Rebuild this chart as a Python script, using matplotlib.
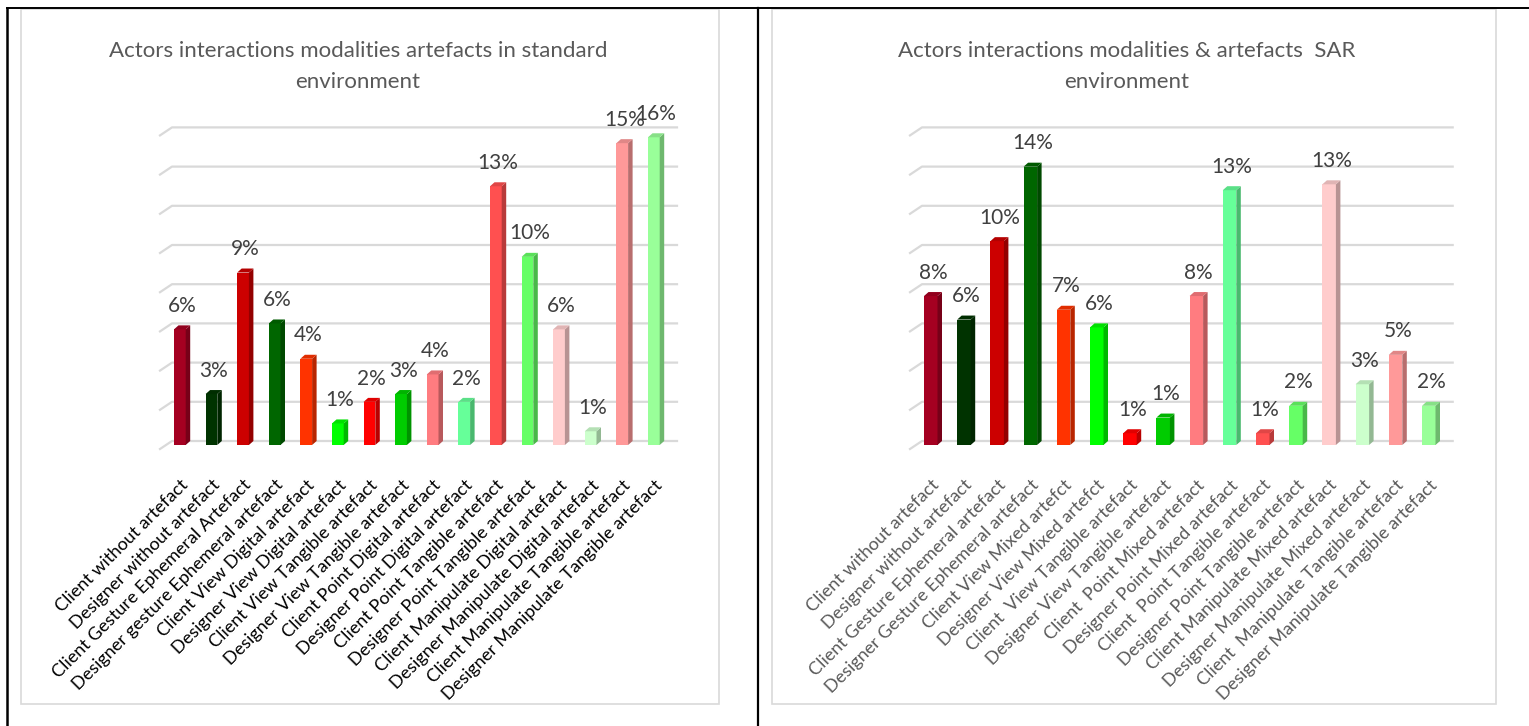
import matplotlib
matplotlib.use("Agg")
import matplotlib.pyplot as plt
from matplotlib.patches import Polygon, Rectangle
from matplotlib.lines import Line2D
import matplotlib.colors as mcolors
import numpy as np

# ---------------- data ----------------
left_title = ["Actors interactions modalities artefacts in standard", "environment"]
left_categories = [
    "Client without artefact", "Designer without artefact",
    "Client Gesture Ephemeral Artefact", "Designer gesture Ephemeral artefact",
    "Client View Digital artefact", "Designer View Digital artefact",
    "Client View Tangible artefact", "Designer View Tangible artefact",
    "Client Point Digital artefact", "Designer Point Digital artefact",
    "Client Point Tangible artefact", "Designer Point Tangible artefact",
    "Client Manipulate Digital artefact", "Designer Manipulate Digital artefact",
    "Client Manipulate Tangible artefact", "Designer Manipulate Tangible artefact",
]
left_values = [5.9, 2.6, 8.8, 6.2, 4.4, 1.1, 2.2, 2.6, 3.6, 2.2, 13.2, 9.6, 5.9, 0.7, 15.4, 15.7]

right_title = ["Actors interactions modalities & artefacts  SAR", "environment"]
right_categories = [
    "Client without artefact", "Designer without artefact",
    "Client Gesture Ephemeral artefact", "Designer Gesture Ephemeral artefact",
    "Client View Mixed artefct", "Designer View Mixed artefct",
    "Client  View Tangible artefact", "Designer View Tangible artefact",
    "Client  Point Mixed artefact", "Designer Point Mixed artefact",
    "Client  Point Tangible artefact", "Designer Point Tangible artefact",
    "Client Manipulate Mixed artefact", "Designer Manipulate Mixed artefact",
    "Client  Manipulate Tangible artefact", "Designer Manipulate Tangible artefact",
]
right_values = [7.6, 6.4, 10.4, 14.2, 6.9, 6.0, 0.6, 1.4, 7.6, 13.0, 0.6, 2.0, 13.3, 3.1, 4.6, 2.0]

bar_colors = ["#A50021", "#003300", "#CC0000", "#006600", "#FF3300", "#00FF00",
              "#FF0000", "#00CC00", "#FF7C80", "#66FF99", "#FF5050", "#66FF66",
              "#FFCCCC", "#CCFFCC", "#FF9999", "#99FF99"]
grid_values = [0, 2, 4, 6, 8, 10, 12, 14, 16]

# ---------------- figure ----------------
W, H = 1529, 726
fig = plt.figure(figsize=(W / 100, H / 100), dpi=100)
fig.patch.set_facecolor("white")
FONT = "Lato"


def px_axes(x0, x1, ytop, ybot):
    return fig.add_axes([x0 / W, (H - ybot) / H, (x1 - x0) / W, (ybot - ytop) / H])


def darker(c, f):
    r, g, b = mcolors.to_rgb(c)
    return (r * f, g * f, b * f)


def draw_panel(ax, cats, vals, xlim, ylim, width, dx, dy, wall_left, wall_right,
               diag_left, tick_color):
    x = np.arange(len(cats))
    ax.set_xlim(*xlim)
    ax.set_ylim(*ylim)
    for s in ax.spines.values():
        s.set_visible(False)
    ax.set_yticks([])
    # back-wall gridlines with side-wall diagonal
    for g in grid_values:
        ax.add_line(Line2D([diag_left, wall_left, wall_right], [g - dy, g + dy, g + dy],
                           color="#D9D9D9", lw=1.6, zorder=1, clip_on=False))
    # bars: front face
    ax.bar(x, vals, width=width, color=bar_colors, zorder=3)
    for xi, v, c in zip(x, vals, bar_colors):
        side = Polygon([(xi + width / 2, 0), (xi + width / 2 + dx, dy),
                        (xi + width / 2 + dx, v + dy), (xi + width / 2, v)],
                       closed=True, facecolor=darker(c, 0.72), edgecolor="none", zorder=3)
        top = Polygon([(xi - width / 2, v), (xi - width / 2 + dx, v + dy),
                       (xi + width / 2 + dx, v + dy), (xi + width / 2, v)],
                      closed=True, facecolor=darker(c, 0.88), edgecolor="none", zorder=3)
        ax.add_patch(side)
        ax.add_patch(top)
        ax.annotate(f"{v:.0f}%", (xi + dx / 2, v), xytext=(0, 12.5),
                    textcoords="offset points", ha="center", va="baseline",
                    fontsize=15, color="#404040", family=FONT, annotation_clip=False)
    ax.set_xticks(x)
    ax.set_xticklabels(cats, rotation=45, ha="right", va="top", rotation_mode="anchor",
                       fontsize=13, color=tick_color, family=FONT)
    ax.tick_params(axis="x", length=0, pad=23)


# left panel: index i -> px 179.85 + 31.6 i ; value v -> px 445 - 19.6 v
axL = px_axes(150, 690, 110, 445)
draw_panel(axL, left_categories, left_values,
           xlim=((150 - 179.85) / 31.6, (690 - 179.85) / 31.6),
           ylim=(0, (445 - 110) / 19.6),
           width=11.7 / 31.6, dx=4.5 / 31.6, dy=4 / 19.6,
           wall_left=(172 - 179.85) / 31.6, wall_right=(677 - 179.85) / 31.6,
           diag_left=(160 - 179.85) / 31.6, tick_color="#000000")

# right panel: index i -> px 930.75 + 33.2 i
axR = px_axes(900, 1465, 110, 445)
draw_panel(axR, right_categories, right_values,
           xlim=((900 - 930.75) / 33.2, (1465 - 930.75) / 33.2),
           ylim=(0, (445 - 110) / 19.6),
           width=13.5 / 33.2, dx=4.5 / 33.2, dy=4 / 19.6,
           wall_left=(922 - 930.75) / 33.2, wall_right=(1452.7 - 930.75) / 33.2,
           diag_left=(910 - 930.75) / 33.2, tick_color="#595959")

# titles
for cx, lines in ((358, left_title), (1127, right_title)):
    fig.text(cx / W, (H - 57) / H, lines[0], ha="center", va="baseline",
             fontsize=16, color="#595959", family=FONT)
    fig.text(cx / W, (H - 88) / H, lines[1], ha="center", va="baseline",
             fontsize=16, color="#595959", family=FONT)

# chart-area borders (light grey) and table borders (black)
for x0, x1 in ((21, 719.3), (771.7, 1495.7)):
    fig.add_artist(Rectangle((x0 / W, (H - 704.3) / H), (x1 - x0) / W, (704.3 - 9.3) / H,
                             transform=fig.transFigure, fill=False,
                             edgecolor="#D9D9D9", lw=1.2))
fig.add_artist(Line2D([7 / W, 1], [(H - 7.5) / H] * 2, transform=fig.transFigure,
                      color="black", lw=1.4))
fig.add_artist(Line2D([7 / W] * 2, [0, (H - 7.5) / H], transform=fig.transFigure,
                      color="black", lw=1.8))
fig.add_artist(Line2D([757.7 / W] * 2, [0, (H - 7.5) / H], transform=fig.transFigure,
                      color="black", lw=1.6))

fig.savefig("out.png", dpi=100, facecolor="white")
